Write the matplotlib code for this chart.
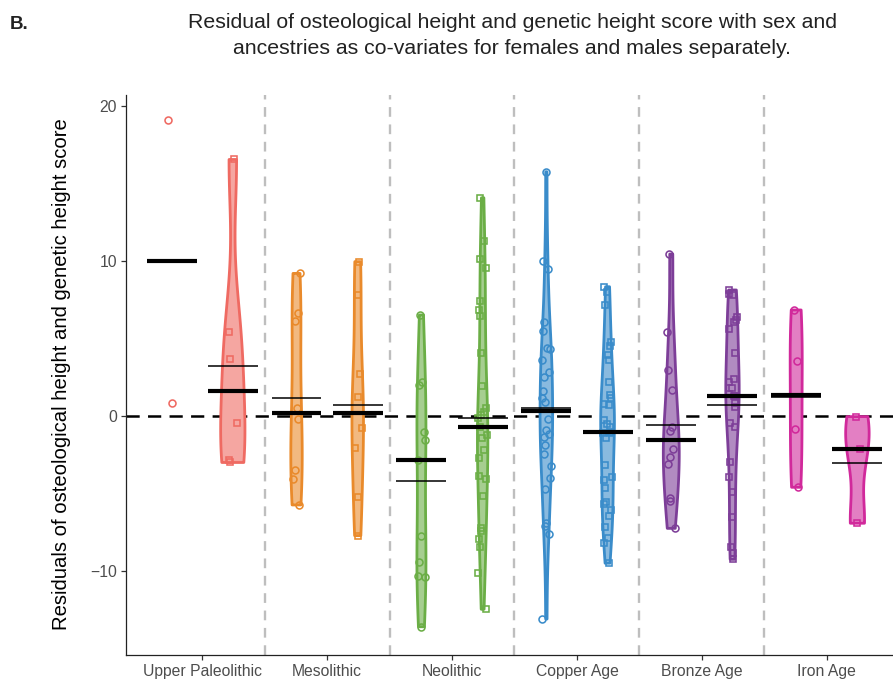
import numpy as np
import matplotlib
matplotlib.use("Agg")
import matplotlib.pyplot as plt
from matplotlib.colors import to_rgb

plt.rcParams["font.family"] = ["Liberation Sans", "DejaVu Sans"]
plt.rcParams["lines.scale_dashes"] = False

# ---- data -------------------------------------------------------------
periods = ["Upper Paleolithic", "Mesolithic", "Neolithic",
           "Copper Age", "Bronze Age", "Iron Age"]
period_colors = ["#EF6A62", "#E98A2B", "#6BAE46",
                 "#3A8CCA", "#7D3E98", "#D1299B"]

female_upper_paleolithic = [19.1, 0.85]
male_upper_paleolithic = [16.55, 5.44, 3.66, -0.43, -2.84, -3.0]

female_mesolithic = [9.2, 6.67, 6.13, 0.54, -0.19, -3.48, -4.09, -5.74]
male_mesolithic = [9.96, 7.8, 2.69, 1.25, -0.8, -2.09, -5.25, -7.72]

female_neolithic = [6.52, 2.21, 2.0, -1.05, -1.55, -2.84, -7.74, -9.42,
                    -10.32, -10.41, -13.6]
male_neolithic = [14.08, 11.29, 10.13, 9.57, 7.42, 6.84, 6.45, 4.04, 1.94,
                  0.5, 0.28, 0.06, -0.15, -0.73, -1.23, -1.44, -2.19, -2.73,
                  -3.87, -4.08, -5.16, -7.25, -7.4, -7.95, -8.43, -10.15,
                  -12.47]

female_copper_age = [15.76, 10.0, 9.5, 6.04, 5.5, 4.37, 4.33, 3.61, 2.82,
                     2.5, 1.63, 1.14, 0.88, -0.2, -0.9, -1.16, -1.33, -1.87,
                     -2.45, -3.2, -4.0, -4.7, -6.9, -7.1, -7.6, -13.1]
male_copper_age = [8.34, 8.02, 7.16, 4.8, 4.5, 3.94, 3.6, 2.21, 1.35, 1.14,
                   0.8, 0.71, -0.26, -0.5, -0.69, -1.05, -1.07, -1.1, -1.44,
                   -3.16, -3.91, -4.13, -4.67, -5.53, -5.68, -6.06, -6.45,
                   -7.14, -7.89, -8.22, -9.5]

female_bronze_age = [10.45, 5.4, 2.97, 1.68, -0.73, -0.95, -2.15, -2.67,
                     -3.1, -5.31, -5.46, -7.25]
male_bronze_age = [8.13, 7.9, 7.8, 6.41, 6.2, 6.09, 5.59, 4.09, 2.37, 2.21,
                   1.78, 1.4, 1.3, 1.28, 0.82, 0.6, -0.43, -0.69, -2.95,
                   -3.96, -4.88, -6.49, -8.43, -8.86, -9.25]

female_iron_age = [6.84, 3.57, -0.86, -4.6]
male_iron_age = [-0.04, -2.13, -6.92]

y_ticks = [-10, 0, 10, 20]

females = [female_upper_paleolithic, female_mesolithic, female_neolithic,
           female_copper_age, female_bronze_age, female_iron_age]
males = [male_upper_paleolithic, male_mesolithic, male_neolithic,
         male_copper_age, male_bronze_age, male_iron_age]


# ---- helpers ----------------------------------------------------------
def bw_nrd0(v):
    v = np.asarray(v, float)
    hi = np.std(v, ddof=1)
    q75, q25 = np.percentile(v, [75, 25])
    lo = min(hi, (q75 - q25) / 1.34)
    if lo <= 0:
        lo = hi
    return 0.9 * lo * len(v) ** (-0.2)


def trimmed_density(v, n=512):
    v = np.asarray(v, float)
    bw = bw_nrd0(v)
    grid = np.linspace(v.min(), v.max(), n)
    z = (grid[:, None] - v[None, :]) / bw
    dens = np.exp(-0.5 * z ** 2).sum(axis=1) / (len(v) * bw * np.sqrt(2 * np.pi))
    return grid, dens


def lighten(color, amount):
    r, g, b = to_rgb(color)
    return (1 - amount * (1 - r), 1 - amount * (1 - g), 1 - amount * (1 - b))


# ---- figure -----------------------------------------------------------
fig = plt.figure(figsize=(8.93, 6.82), dpi=100)
ax = fig.add_axes([0.1411, 0.0396, 0.8589, 0.8211])

dodge = 0.245
max_half_width = 0.094
bar_half = 0.2
min_violin_n = 3
rng = np.random.default_rng(11)

groups = []
for i, (f, m) in enumerate(zip(females, males)):
    # a violin that is alone in its period takes the whole dodge slot
    n_violins = (len(f) >= min_violin_n) + (len(m) >= min_violin_n)
    slot = 2.0 if n_violins == 1 else 1.0
    groups.append((i + 1 - dodge, f, "o", period_colors[i], slot))
    groups.append((i + 1 + dodge, m, "s", period_colors[i], slot))

# violin densities share one scale (equal area)
dens_all = {}
for k, g in enumerate(groups):
    if len(g[1]) >= min_violin_n:
        dens_all[k] = trimmed_density(g[1])
global_max = max(d.max() for _, d in dens_all.values())

# period separators and zero reference
for b in np.arange(1.5, len(periods), 1.0):
    ax.axvline(b, color="#BEBEBE", lw=1.7, dashes=(7.0, 5.5), zorder=1)
ax.axhline(0, color="black", lw=1.8, dashes=(9.5, 6.0), zorder=2)

for k, (xc, vals, mk, col, slot) in enumerate(groups):
    if k in dens_all:
        grid, dens = dens_all[k]
        hw = dens / global_max * max_half_width * slot
        xs = np.concatenate([xc - hw, (xc + hw)[::-1]])
        ys = np.concatenate([grid, grid[::-1]])
        ax.fill(xs, ys, facecolor=lighten(col, 0.6), edgecolor=col,
                lw=2.0, joinstyle="round", zorder=3)
    jitter = rng.uniform(-0.035, 0.035, len(vals))
    ax.plot(xc + jitter, vals, linestyle="none", marker=mk, ms=5.0,
            mfc="none", mec=col, mew=1.15, zorder=4)
    ax.hlines(np.median(vals), xc - bar_half, xc + bar_half,
              color="black", lw=3.0, zorder=5)
    ax.hlines(np.mean(vals), xc - bar_half, xc + bar_half,
              color="black", lw=1.1, zorder=5)

ax.set_xlim(0.39, 6.53)
ax.set_ylim(-15.42, 20.71)
ax.set_xticks(range(1, len(periods) + 1))
ax.set_xticklabels(periods)
ax.set_yticks(y_ticks)
ax.set_yticklabels([f"{t}".replace("-", "\u2212") for t in y_ticks])

for side in ("top", "right"):
    ax.spines[side].set_visible(False)
for side in ("left", "bottom"):
    ax.spines[side].set_color("#222222")
    ax.spines[side].set_linewidth(0.9)
ax.tick_params(axis="both", length=3.5, width=0.9, color="#333333",
               labelcolor="#4D4D4D", labelsize=11.3, pad=3)

ax.set_ylabel("Residuals of osteological height and genetic height score",
              fontsize=14.6, color="black")
ax.yaxis.set_label_coords(-0.072, 0.502)

title_lines = ["Residual of osteological height and genetic height score with sex and",
               "ancestries as co-variates for females and males separately."]
fig.text(0.5734, 0.9677, title_lines[0], ha="center", va="center",
         fontsize=15.3, color="#222222")
fig.text(0.5734, 0.9296, title_lines[1], ha="center", va="center",
         fontsize=15.3, color="#222222")
fig.text(0.011, 0.977, "B.", ha="left", va="top", fontsize=13.5,
         fontweight="bold", color="#222222")

fig.savefig("out.png", dpi=100)
